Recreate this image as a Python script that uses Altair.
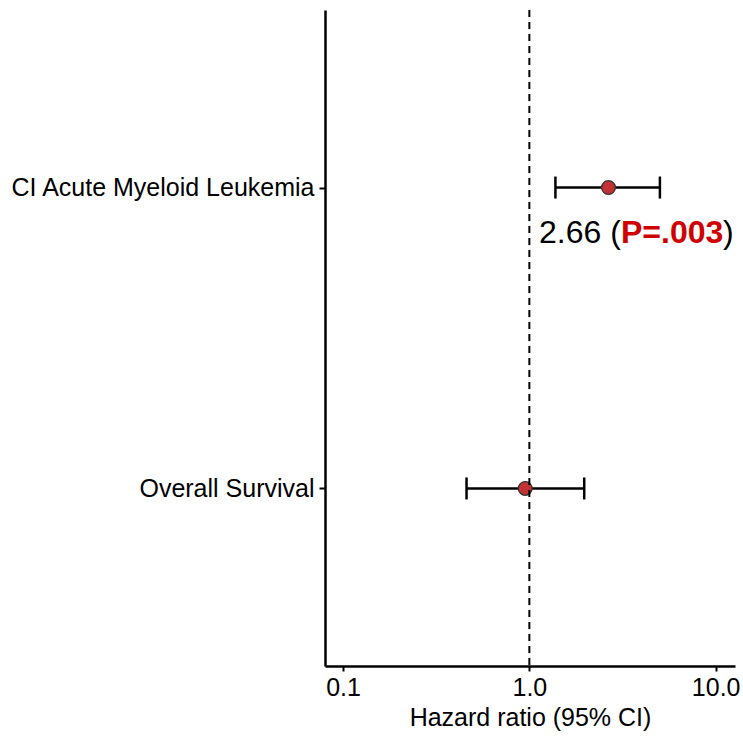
import altair as alt
import pandas as pd

outcomes = ["CI Acute Myeloid Leukemia", "Overall Survival"]
hr = [2.66, 0.95]
ci_low = [1.38, 0.46]
ci_high = [5.02, 1.97]

ann_outcome = ["CI Acute Myeloid Leukemia"]
ann_hr = [2.66]
ann_hr_text = ["2.66 ("]
ann_p_text = ["P=.003"]
ann_close = [")"]

ref_line = [1.0]
x_ticks = [0.1, 1.0, 10.0]

df = pd.DataFrame({"outcome": outcomes, "hr": hr, "low": ci_low, "high": ci_high})
ann = pd.DataFrame({"outcome": ann_outcome, "hr": ann_hr, "t1": ann_hr_text,
                    "t2": ann_p_text, "t3": ann_close})
ref = pd.DataFrame({"x": ref_line})

FONT = "Liberation Sans"

xscale = alt.Scale(type="log", domain=[0.08, 12.7], nice=False)
yscale = alt.Scale(type="point", domain=outcomes, padding=0.59)

xaxis = alt.Axis(values=x_ticks, format=".1f", title="Hazard ratio (95% CI)",
                 grid=False, domainColor="black", domainWidth=2.5,
                 tickColor="black", tickWidth=2, tickSize=5, labelPadding=4,
                 labelFont=FONT, labelFontSize=25, labelColor="black",
                 titleFont=FONT, titleFontSize=25, titleColor="black",
                 titleFontWeight="normal", titlePadding=5, labelFlush=False)
yaxis = alt.Axis(title=None, grid=False, domainColor="black", domainWidth=2.5,
                 tickColor="black", tickWidth=2, tickSize=6, labelPadding=5,
                 labelFont=FONT, labelFontSize=25, labelColor="black",
                 labelLimit=400)

base = alt.Chart(df)

bars = base.mark_rule(color="black", strokeWidth=2.5).encode(
    x=alt.X("low:Q", scale=xscale, axis=xaxis),
    x2="high:Q",
    y=alt.Y("outcome:N", scale=yscale, axis=yaxis, sort=outcomes),
)
cap_lo = base.mark_tick(color="black", thickness=2.5, size=22, orient="vertical",
                        opacity=1).encode(
    x=alt.X("low:Q", scale=xscale), y=alt.Y("outcome:N", scale=yscale, sort=outcomes))
cap_hi = base.mark_tick(color="black", thickness=2.5, size=22, orient="vertical",
                        opacity=1).encode(
    x=alt.X("high:Q", scale=xscale), y=alt.Y("outcome:N", scale=yscale, sort=outcomes))
pts = base.mark_point(shape="circle", filled=True, size=190, fill="#C33232",
                      stroke="#333333", strokeWidth=1.3, opacity=1).encode(
    x=alt.X("hr:Q", scale=xscale), y=alt.Y("outcome:N", scale=yscale, sort=outcomes))

vline = alt.Chart(ref).mark_rule(color="black", strokeWidth=2, strokeDash=[7, 5]).encode(
    x=alt.X("x:Q", scale=xscale))

abase = alt.Chart(ann).encode(x=alt.X("hr:Q", scale=xscale),
                              y=alt.Y("outcome:N", scale=yscale, sort=outcomes))
t1 = abase.mark_text(font=FONT, fontSize=32, color="black", align="left",
                     baseline="alphabetic", dx=-69.5, dy=55).encode(text="t1:N")
t2 = abase.mark_text(font=FONT, fontSize=32, color="#D00000", fontWeight="bold",
                     align="left", baseline="alphabetic", dx=12.5, dy=55).encode(text="t2:N")
t3 = abase.mark_text(font=FONT, fontSize=32, color="black", align="left",
                     baseline="alphabetic", dx=114.6, dy=55).encode(text="t3:N")

chart = alt.layer(bars, cap_lo, cap_hi, pts, vline, t1, t2, t3).properties(
    width=410, height=656,
    background="white",
    autosize=alt.AutoSizeParams(type="none"),
    padding={"left": 325, "top": 10, "right": 8, "bottom": 72},
).configure_view(strokeWidth=0, stroke="transparent")

chart.save("out.html", embed_options={"renderer": "svg", "actions": False})
